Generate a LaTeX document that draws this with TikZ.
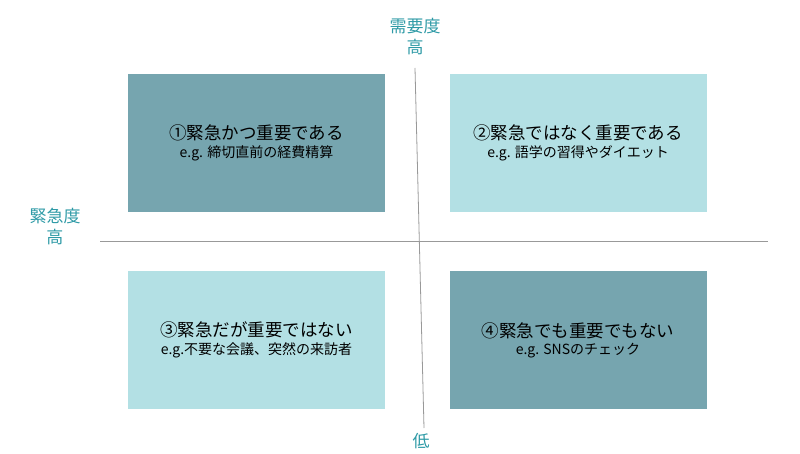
\documentclass[tikz,border=0pt]{standalone}
\usepackage{fontspec}
\setmainfont{Noto Sans CJK JP}
\usetikzlibrary{positioning}
\definecolor{darkbox}{HTML}{76A5AF}
\definecolor{lightbox}{HTML}{B3E0E4}
\definecolor{axislabel}{HTML}{2E9AA6}
\begin{document}
\begin{tikzpicture}[x=1pt,y=-1pt]
% definizione stili
\tikzset{quadrant/.style={fill=#1, draw=none, minimum width=257pt, minimum height=138pt, align=center, inner sep=0pt}}
\tikzset{axistext/.style={text=axislabel, font=\fontsize{17}{21}\selectfont, align=center, inner sep=0pt}}
\tikzset{axisline/.style={draw=gray!80, line width=0.8pt}}
\newcommand{\quadtext}[2]{{\fontsize{17.5}{22}\selectfont #1}\\[3pt]{\fontsize{14}{17}\selectfont #2}}
\useasboundingbox (0,0) rectangle (800,454);

%----
% quadranti
\node[quadrant=darkbox] (q1) at (256.5,143) {\quadtext{①緊急かつ重要である}{e.g. 締切直前の経費精算}};
\node[quadrant=lightbox] (q2) at (578,143) {\quadtext{②緊急ではなく重要である}{e.g. 語学の習得やダイエット}};
\node[quadrant=lightbox] (q3) at (256.5,340) {\quadtext{③緊急だが重要ではない}{e.g.不要な会議、突然の来訪者}};
\node[quadrant=darkbox] (q4) at (578,340) {\quadtext{④緊急でも重要でもない}{e.g. SNSのチェック}};

% assi
\coordinate (xl) at (100,241);
\coordinate (xr) at (768,241);
\coordinate (yt) at (415,68);
\coordinate (yb) at (424,428);
\draw[axisline] (xl) -- (xr);
\draw[axisline] (yt) -- (yb);

% etichette
\node[axistext] (need) at (415,37) {需要度\\高};
\node[axistext] (urg) at (55,227) {緊急度\\高};
\node[axistext] (low) at (421,441) {低};
\end{tikzpicture}
\end{document}
